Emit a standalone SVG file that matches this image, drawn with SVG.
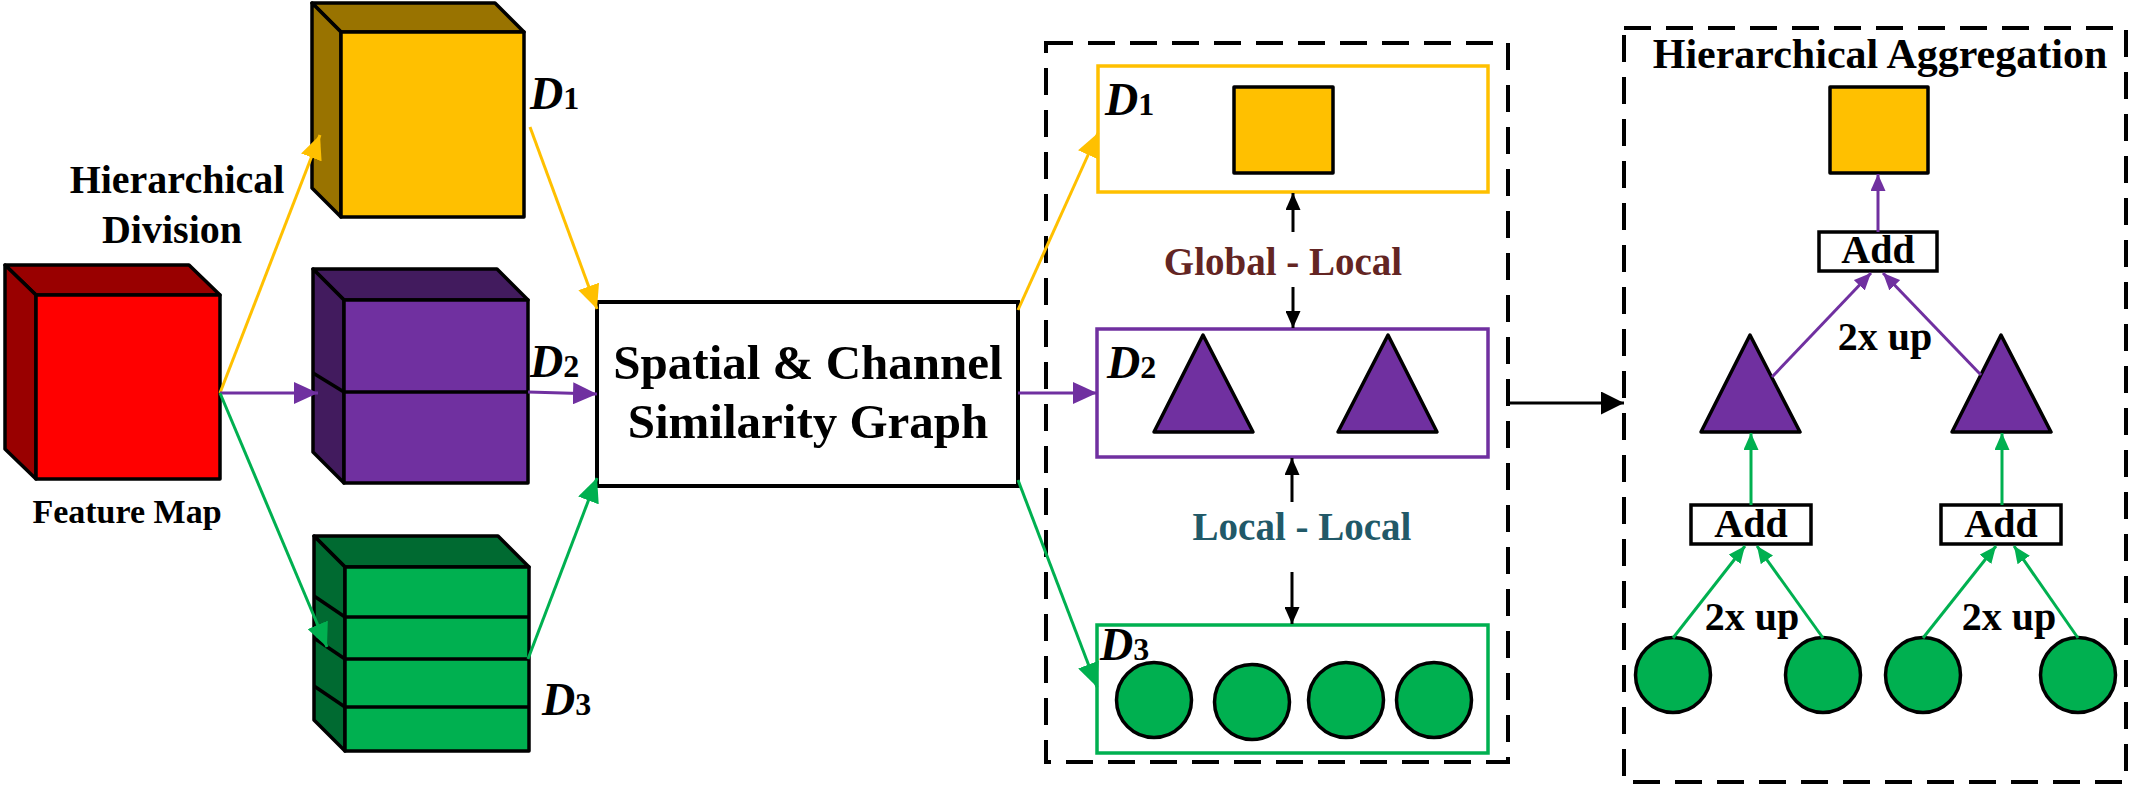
<svg xmlns="http://www.w3.org/2000/svg" width="2137" height="786" viewBox="0 0 2137 786">
<style>
.t{font-family:"Liberation Serif","Times New Roman",serif;font-weight:bold;fill:#000}
.dl{font-family:"Liberation Serif","Times New Roman",serif;font-weight:bold;font-style:italic;font-size:46px;fill:#000}
.sub{font-style:normal;font-size:32px}
.ol{stroke:#000;stroke-width:3.5;stroke-linejoin:round}
.dash{fill:none;stroke:#000;stroke-width:4;stroke-dasharray:27 15}
.ay{stroke:#FFC000;stroke-width:3;fill:none}
.ap{stroke:#7030A0;stroke-width:3;fill:none}
.ag{stroke:#00B050;stroke-width:3;fill:none}
.ak{stroke:#000;stroke-width:3;fill:none}
</style>
<defs>
<marker id="hy" markerUnits="userSpaceOnUse" markerWidth="24" markerHeight="22" refX="24" refY="11" orient="auto"><path d="M0,0 L24,11 L0,22 z" fill="#FFC000"/></marker>
<marker id="hp" markerUnits="userSpaceOnUse" markerWidth="24" markerHeight="22" refX="24" refY="11" orient="auto"><path d="M0,0 L24,11 L0,22 z" fill="#7030A0"/></marker>
<marker id="hg" markerUnits="userSpaceOnUse" markerWidth="24" markerHeight="22" refX="24" refY="11" orient="auto"><path d="M0,0 L24,11 L0,22 z" fill="#00B050"/></marker>
<marker id="sp" markerUnits="userSpaceOnUse" markerWidth="17" markerHeight="15" refX="17" refY="7.5" orient="auto"><path d="M0,0 L17,7.5 L0,15 z" fill="#7030A0"/></marker>
<marker id="sg" markerUnits="userSpaceOnUse" markerWidth="17" markerHeight="15" refX="17" refY="7.5" orient="auto"><path d="M0,0 L17,7.5 L0,15 z" fill="#00B050"/></marker>
<marker id="sk" markerUnits="userSpaceOnUse" markerWidth="17" markerHeight="15" refX="17" refY="7.5" orient="auto"><path d="M0,0 L17,7.5 L0,15 z" fill="#000"/></marker>
<marker id="bk" markerUnits="userSpaceOnUse" markerWidth="23" markerHeight="23" refX="23" refY="11.5" orient="auto"><path d="M0,0 L23,11.5 L0,23 z" fill="#000"/></marker>
</defs>

<!-- Feature map cube -->
<g id="feature-map">
<polygon class="ol" fill="#990000" points="5,265 189,265 220,295 36,295"/>
<polygon class="ol" fill="#990000" points="5,265 36,295 36,479 5,449"/>
<rect class="ol" fill="#FF0000" x="36" y="295" width="184" height="184"/>
<text class="t" x="127" y="523" font-size="34" text-anchor="middle">Feature Map</text>
</g>
<g id="division-label">
<text class="t" x="177" y="193" font-size="40" text-anchor="middle">Hierarchical</text>
<text class="t" x="172" y="243" font-size="40" text-anchor="middle">Division</text>
</g>

<!-- D1 cube -->
<g id="cube-d1">
<polygon class="ol" fill="#997300" points="312,3 495,3 524,32 341,32"/>
<polygon class="ol" fill="#997300" points="312,3 341,32 341,217 312,188"/>
<rect class="ol" fill="#FFC000" x="341" y="32" width="183" height="185"/>
<text class="dl" x="530" y="109">D<tspan class="sub">1</tspan></text>
</g>
<!-- D2 cube -->
<g id="cube-d2">
<polygon class="ol" fill="#421B5E" points="313,269 497,269 528,300 344,300"/>
<polygon class="ol" fill="#421B5E" points="313,269 344,300 344,483 313,452"/>
<rect class="ol" fill="#7030A0" x="344" y="300" width="184" height="183"/>
<line class="ol" x1="344" y1="392" x2="528" y2="392"/>
<line class="ol" x1="313" y1="373" x2="344" y2="392"/>
<text class="dl" x="530" y="377">D<tspan class="sub">2</tspan></text>
</g>
<!-- D3 cube -->
<g id="cube-d3">
<polygon class="ol" fill="#006A31" points="314,536 498,536 529,567 345,567"/>
<polygon class="ol" fill="#006A31" points="314,536 345,567 345,751 314,720"/>
<rect class="ol" fill="#00B050" x="345" y="567" width="184" height="184"/>
<line class="ol" x1="345" y1="617" x2="529" y2="617"/>
<line class="ol" x1="345" y1="659" x2="529" y2="659"/>
<line class="ol" x1="345" y1="707" x2="529" y2="707"/>
<line class="ol" x1="314" y1="596" x2="345" y2="617"/>
<line class="ol" x1="314" y1="638" x2="345" y2="659"/>
<line class="ol" x1="314" y1="686" x2="345" y2="707"/>
<text class="dl" x="542" y="715">D<tspan class="sub">3</tspan></text>
</g>

<!-- SCSG -->
<g id="scsg">
<rect x="597" y="302" width="421" height="184" fill="#fff" stroke="#000" stroke-width="4"/>
<text class="t" x="808" y="379" font-size="49" text-anchor="middle">Spatial &amp; Channel</text>
<text class="t" x="808" y="438" font-size="49" text-anchor="middle">Similarity Graph</text>
</g>

<!-- Middle graph box -->
<g id="graph-levels">
<rect class="dash" x="1046" y="43" width="462" height="719"/>
</g>
<g id="level-d1">
<rect x="1098" y="66" width="390" height="126" fill="#fff" stroke="#FFC000" stroke-width="3.5"/>
<rect class="ol" fill="#FFC000" x="1234" y="87" width="99" height="86"/>
<text class="dl" x="1105" y="115">D<tspan class="sub">1</tspan></text>
</g>
<g id="level-d2">
<rect x="1097" y="329" width="391" height="128" fill="#fff" stroke="#7030A0" stroke-width="3.5"/>
<polygon class="ol" fill="#7030A0" points="1203,335 1253,432 1154,432"/>
<polygon class="ol" fill="#7030A0" points="1388,335 1437,432 1338,432"/>
<text class="dl" x="1107" y="378">D<tspan class="sub">2</tspan></text>
</g>
<g id="level-d3">
<rect x="1097" y="625" width="391" height="128" fill="#fff" stroke="#00B050" stroke-width="3.5"/>
<circle class="ol" fill="#00B050" cx="1154" cy="700" r="37.5"/>
<circle class="ol" fill="#00B050" cx="1252" cy="702" r="37.5"/>
<circle class="ol" fill="#00B050" cx="1346" cy="700" r="37.5"/>
<circle class="ol" fill="#00B050" cx="1434" cy="700" r="37.5"/>
<text class="dl" x="1100" y="660">D<tspan class="sub">3</tspan></text>
</g>
<g id="relation-labels">
<text class="t" x="1283" y="275" font-size="39" text-anchor="middle" style="fill:#632523">Global - Local</text>
<text class="t" x="1302" y="540" font-size="39" text-anchor="middle" style="fill:#215968">Local - Local</text>
</g>

<!-- Aggregation box -->
<g id="aggregation">
<rect class="dash" x="1624" y="28" width="502" height="754"/>
<text class="t" x="1880" y="68" font-size="42" text-anchor="middle">Hierarchical Aggregation</text>
</g>
<g id="agg-top">
<rect class="ol" fill="#FFC000" x="1830" y="87" width="98" height="86"/>
</g>
<g id="add-top">
<rect x="1819" y="232" width="118" height="39" fill="#fff" stroke="#000" stroke-width="3.5"/>
<text class="t" x="1878" y="263" font-size="40" text-anchor="middle">Add</text>
</g>
<g id="agg-tri-left">
<polygon class="ol" fill="#7030A0" points="1750,335 1800,432 1701,432"/>
</g>
<g id="agg-tri-right">
<polygon class="ol" fill="#7030A0" points="2001,335 2051,432 1952,432"/>
</g>
<g id="add-left">
<rect x="1691" y="505" width="120" height="39" fill="#fff" stroke="#000" stroke-width="3.5"/>
<text class="t" x="1751" y="537" font-size="40" text-anchor="middle">Add</text>
</g>
<g id="add-right">
<rect x="1941" y="505" width="120" height="39" fill="#fff" stroke="#000" stroke-width="3.5"/>
<text class="t" x="2001" y="537" font-size="40" text-anchor="middle">Add</text>
</g>
<g id="agg-circles">
<circle class="ol" fill="#00B050" cx="1673" cy="675" r="37.5"/>
<circle class="ol" fill="#00B050" cx="1823" cy="675" r="37.5"/>
<circle class="ol" fill="#00B050" cx="1923" cy="675" r="37.5"/>
<circle class="ol" fill="#00B050" cx="2078" cy="675" r="37.5"/>
</g>
<g id="up-labels">
<text class="t" x="1885" y="350" font-size="40" text-anchor="middle">2x up</text>
<text class="t" x="1752" y="630" font-size="40" text-anchor="middle">2x up</text>
<text class="t" x="2009" y="630" font-size="40" text-anchor="middle">2x up</text>
</g>

<!-- Connectors -->
<g id="connectors">
<line class="ay" x1="220" y1="393" x2="320" y2="135" marker-end="url(#hy)"/>
<line class="ap" x1="220" y1="393" x2="318" y2="393" marker-end="url(#hp)"/>
<line class="ag" x1="220" y1="393" x2="327" y2="647" marker-end="url(#hg)"/>
<line class="ay" x1="530" y1="127" x2="597" y2="309" marker-end="url(#hy)"/>
<line class="ap" x1="528" y1="392" x2="597" y2="394" marker-end="url(#hp)"/>
<line class="ag" x1="528" y1="659" x2="597" y2="478" marker-end="url(#hg)"/>
<line class="ay" x1="1018" y1="310" x2="1098" y2="133" marker-end="url(#hy)"/>
<line class="ap" x1="1018" y1="393" x2="1097" y2="393" marker-end="url(#hp)"/>
<line class="ag" x1="1018" y1="480" x2="1097" y2="687" marker-end="url(#hg)"/>
<line class="ak" x1="1293" y1="232" x2="1293" y2="193" marker-end="url(#sk)"/>
<line class="ak" x1="1293" y1="287" x2="1293" y2="328" marker-end="url(#sk)"/>
<line class="ak" x1="1292" y1="502" x2="1292" y2="458" marker-end="url(#sk)"/>
<line class="ak" x1="1292" y1="572" x2="1292" y2="624" marker-end="url(#sk)"/>
<line class="ak" x1="1507" y1="403" x2="1624" y2="403" marker-end="url(#bk)"/>
<line class="ap" x1="1878" y1="232" x2="1878" y2="174" marker-end="url(#sp)"/>
<line class="ap" x1="1772" y1="377" x2="1871" y2="273" marker-end="url(#sp)"/>
<line class="ap" x1="1981" y1="375" x2="1883" y2="273" marker-end="url(#sp)"/>
<line class="ag" x1="1751" y1="505" x2="1751" y2="433" marker-end="url(#sg)"/>
<line class="ag" x1="2002" y1="505" x2="2002" y2="433" marker-end="url(#sg)"/>
<line class="ag" x1="1673" y1="638" x2="1745" y2="546" marker-end="url(#sg)"/>
<line class="ag" x1="1823" y1="638" x2="1757" y2="546" marker-end="url(#sg)"/>
<line class="ag" x1="1923" y1="638" x2="1996" y2="546" marker-end="url(#sg)"/>
<line class="ag" x1="2078" y1="638" x2="2014" y2="546" marker-end="url(#sg)"/>
</g>
</svg>
